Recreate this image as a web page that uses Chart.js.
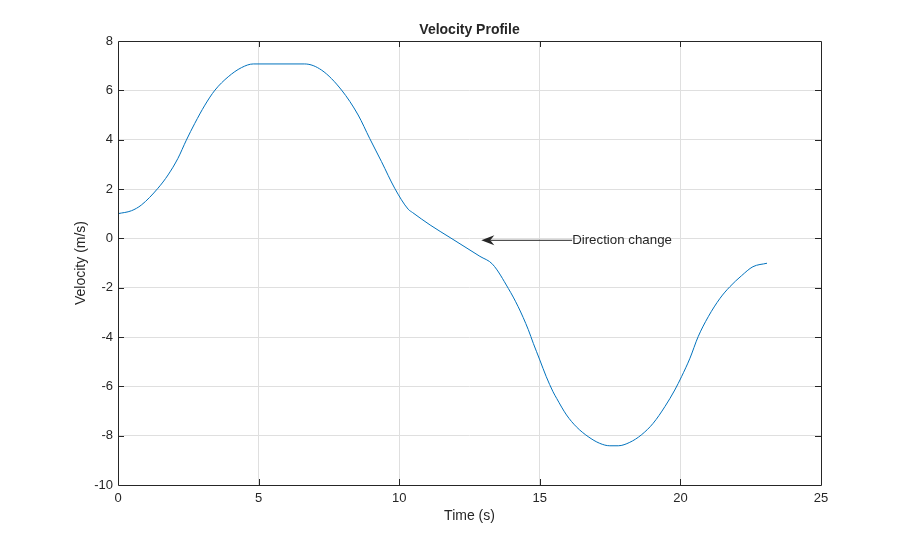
<!DOCTYPE html>
<html lang="en">
<head>
    <meta charset="UTF-8">
    <title>Velocity Profile</title>
    <script src="https://cdn.jsdelivr.net/npm/chart.js"></script>
    <style>
        body {
            margin: 0;
            background: #ffffff;
        }
        #chart-container {
            width: 908px;
            height: 546px;
        }
    </style>
</head>
<body>
    <div id="chart-container">
        <canvas id="velocityChart"></canvas>
    </div>

    <script>
        // Values
        const timeValues = [0, 0.48, 0.83, 1.42, 1.78, 2.13, 2.43, 2.73, 3.09, 3.45, 3.92, 4.39, 4.81,
            6.64, 7.24, 7.95, 8.54, 8.95, 9.37, 9.84, 10.32, 10.47,
            11.1, 11.81, 12.87, 13.32, 13.88, 14.23, 14.59, 14.77, 15.0, 15.23, 15.47, 15.6,
            15.95, 16.3, 16.72, 17.13, 17.49, 17.79, 18.2, 18.61, 19.03, 19.45, 19.8, 20.04, 20.34, 20.63,
            20.99, 21.41, 21.76, 22.17, 22.58, 23.08];
        const velocityValues = [1.0, 1.12, 1.35, 2.03, 2.57, 3.24, 3.98, 4.66, 5.4, 6.01, 6.55, 6.92, 7.07,
            7.07, 6.82, 6.01, 5.0, 4.05, 3.11, 2.03, 1.18, 1.05,
            0.54, 0.03, -0.73, -1.05, -2.03, -2.77, -3.7, -4.26, -4.93, -5.61, -6.22, -6.49,
            -7.16, -7.64, -8.04, -8.31, -8.41, -8.41, -8.27, -7.97, -7.5, -6.82, -6.15, -5.61, -4.86, -3.99,
            -3.18, -2.43, -1.96, -1.52, -1.15, -1.01];

        const xTicks = [0, 5, 10, 15, 20, 25];
        const yTicks = [8, 6, 4, 2, 0, -2, -4, -6, -8, -10];

        const chartTitle = 'Velocity Profile';
        const arrowFrom = [16.15, -0.08];
        const arrowTo = [12.92, -0.08];
        const arrowText = 'Direction change';

        const axisColor = '#262626';
        const fontFamily = '"Liberation Sans", Arial, sans-serif';

        // Box, inward ticks, title and the arrow annotation
        const matlabAxes = {
            id: 'matlabAxes',
            afterDraw(chart) {
                const ctx = chart.ctx;
                const area = chart.chartArea;
                const xs = chart.scales.x;
                const ys = chart.scales.y;
                const tickLen = 6;

                ctx.save();
                ctx.strokeStyle = axisColor;
                ctx.lineWidth = 1;
                ctx.beginPath();
                ctx.rect(area.left + 0.5, area.top + 0.5, area.right - area.left, area.bottom - area.top);
                ctx.stroke();

                ctx.beginPath();
                xTicks.slice(1, -1).forEach(v => {
                    const px = Math.round(xs.getPixelForValue(v)) + 0.5;
                    ctx.moveTo(px, area.bottom);
                    ctx.lineTo(px, area.bottom - tickLen);
                    ctx.moveTo(px, area.top);
                    ctx.lineTo(px, area.top + tickLen);
                });
                yTicks.slice(1, -1).forEach(v => {
                    const py = Math.round(ys.getPixelForValue(v)) + 0.5;
                    ctx.moveTo(area.left, py);
                    ctx.lineTo(area.left + tickLen, py);
                    ctx.moveTo(area.right, py);
                    ctx.lineTo(area.right - tickLen, py);
                });
                ctx.stroke();

                // title
                ctx.fillStyle = axisColor;
                ctx.font = 'bold 14px ' + fontFamily;
                ctx.textAlign = 'center';
                ctx.textBaseline = 'middle';
                ctx.fillText(chartTitle, (area.left + area.right) / 2, 30);

                // arrow
                const x0 = xs.getPixelForValue(arrowFrom[0]);
                const y0 = ys.getPixelForValue(arrowFrom[1]);
                const x1 = xs.getPixelForValue(arrowTo[0]);
                const y1 = ys.getPixelForValue(arrowTo[1]);
                ctx.strokeStyle = axisColor;
                ctx.beginPath();
                ctx.moveTo(x0, y0);
                ctx.lineTo(x1 + 9, y1);
                ctx.stroke();
                ctx.beginPath();
                ctx.moveTo(x1, y1);
                ctx.lineTo(x1 + 13, y1 - 5);
                ctx.lineTo(x1 + 9, y1);
                ctx.lineTo(x1 + 13, y1 + 5);
                ctx.closePath();
                ctx.fill();

                ctx.font = '13.3px ' + fontFamily;
                ctx.textAlign = 'left';
                ctx.fillText(arrowText, x0, y0);
                ctx.restore();
            }
        };

        const ctx = document.getElementById('velocityChart').getContext('2d');
        const chart = new Chart(ctx, {
            type: 'line',
            data: {
                datasets: [{
                    label: 'Velocity',
                    data: timeValues.map((t, i) => ({ x: t, y: velocityValues[i] })),
                    borderColor: '#0072BD',
                    borderWidth: 1,
                    pointRadius: 0,
                    fill: false,
                    cubicInterpolationMode: 'monotone'
                }]
            },
            options: {
                responsive: true,
                maintainAspectRatio: false,
                animation: false,
                layout: {
                    padding: { left: 0, top: 41, right: 87, bottom: 0 }
                },
                plugins: {
                    legend: { display: false },
                    tooltip: { enabled: false }
                },
                scales: {
                    x: {
                        type: 'linear',
                        min: 0,
                        max: 25,
                        afterFit: scale => { scale.height = 61; },
                        afterBuildTicks: scale => { scale.ticks = xTicks.map(v => ({ value: v })); },
                        grid: { color: '#dfdfdf', drawTicks: false },
                        border: { display: false },
                        ticks: {
                            padding: 6,
                            color: axisColor,
                            maxRotation: 0,
                            font: { family: fontFamily, size: 13 }
                        },
                        title: {
                            display: true,
                            text: 'Time (s)',
                            color: axisColor,
                            padding: { top: 0, bottom: 21 },
                            font: { family: fontFamily, size: 14 }
                        }
                    },
                    y: {
                        type: 'linear',
                        min: -10,
                        max: 8,
                        afterFit: scale => { scale.width = 118; },
                        afterBuildTicks: scale => { scale.ticks = yTicks.map(v => ({ value: v })); },
                        grid: { color: '#dfdfdf', drawTicks: false },
                        border: { display: false },
                        ticks: {
                            padding: 5,
                            color: axisColor,
                            font: { family: fontFamily, size: 13 }
                        },
                        title: {
                            display: true,
                            text: 'Velocity (m/s)',
                            color: axisColor,
                            padding: { top: 72.6, bottom: 0 },
                            font: { family: fontFamily, size: 14 }
                        }
                    }
                }
            },
            plugins: [matlabAxes]
        });
    </script>
</body>
</html>
